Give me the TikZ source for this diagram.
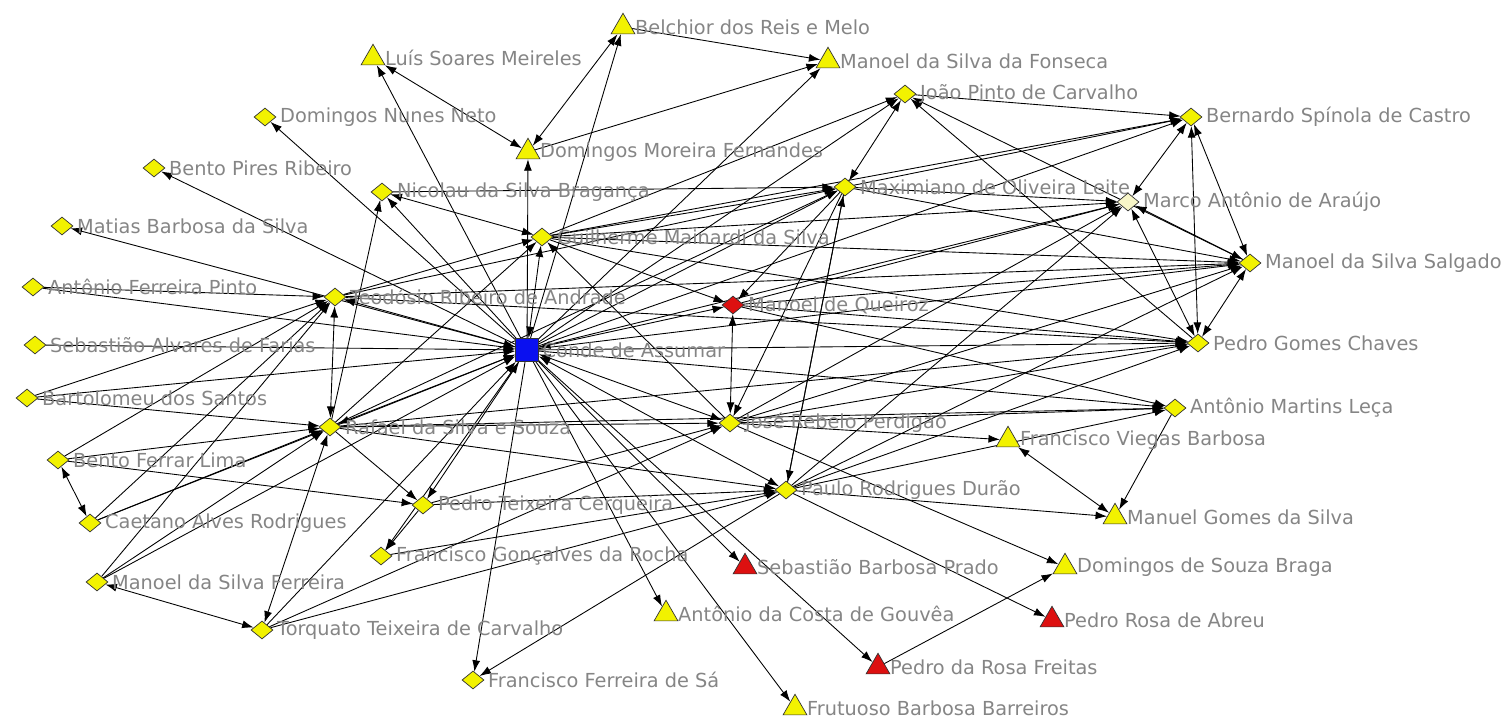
\documentclass[tikz,border=0pt]{standalone}
\usepackage{fontspec}
\setmainfont{DejaVu Sans}
\usepackage{tikz}
\usetikzlibrary{arrows.meta,shapes.geometric,backgrounds}
\definecolor{netyellow}{HTML}{F2F200}
\definecolor{netred}{HTML}{DD1010}
\definecolor{netblue}{HTML}{0A10F0}
\definecolor{netpale}{HTML}{F8F6C8}
\definecolor{netgray}{HTML}{858585}
\tikzset{
  who/.style={diamond,draw=black!80,fill=netyellow,minimum width=0.44cm,minimum height=0.36cm,inner sep=0pt},
  whored/.style={who,fill=netred},
  whopale/.style={who,fill=netpale},
  tri/.style={regular polygon,regular polygon sides=3,draw=black!80,fill=netyellow,minimum size=0.55cm,inner sep=0pt},
  trired/.style={tri,fill=netred},
  gov/.style={rectangle,draw=black!80,fill=netblue,minimum size=0.46cm,inner sep=0pt},
  lbl/.style={font=\fontsize{11}{13}\selectfont,text=netgray,inner sep=2pt},
  tie/.style={-{Latex[length=2.3mm,width=1.6mm]},line width=0.5pt},
  both/.style={{Latex[length=2.3mm,width=1.6mm]}-{Latex[length=2.3mm,width=1.6mm]},line width=0.5pt}
}
\begin{document}
\begin{tikzpicture}[x=0.02cm,y=-0.02cm]
\useasboundingbox (0,0) rectangle (1504,719);
% actors
\node[tri,label={[lbl]right:Belchior dos Reis e Melo}] (bel) at (623,27) {};
\node[tri,label={[lbl]right:Luís Soares Meireles}] (lsm) at (373,58) {};
\node[tri,label={[lbl]right:Manoel da Silva da Fonseca}] (fon) at (828,61) {};
\node[who,label={[lbl]right:Domingos Nunes Neto}] (dnn) at (265,117) {};
\node[who,label={[lbl]right:João Pinto de Carvalho}] (jpc) at (905,94) {};
\node[who,label={[lbl]right:Bernardo Spínola de Castro}] (bsc) at (1191,117) {};
\node[tri,label={[lbl]right:Domingos Moreira Fernandes}] (dmf) at (528,152) {};
\node[who,label={[lbl]right:Bento Pires Ribeiro}] (bpr) at (154,168) {};
\node[who,label={[lbl]right:Nicolau da Silva Bragança}] (nsb) at (382,192) {};
\node[who,label={[lbl]right:Maximiano de Oliveira Leite}] (mol) at (845,187) {};
\node[whopale,label={[lbl]right:Marco Antônio de Araújo}] (maa) at (1128,202) {};
\node[who,label={[lbl]right:Matias Barbosa da Silva}] (mbs) at (62,226) {};
\node[who,label={[lbl]right:Guilherme Mainardi da Silva}] (gms) at (542,237) {};
\node[who,label={[lbl]right:Manoel da Silva Salgado}] (mss) at (1250,263) {};
\node[who,label={[lbl]right:Antônio Ferreira Pinto}] (afp) at (33,287) {};
\node[who,label={[lbl]right:Teodósio Ribeiro de Andrade}] (tra) at (335,297) {};
\node[whored,label={[lbl]right:Manoel de Queiroz}] (mqz) at (733,305) {};
\node[who,label={[lbl]right:Sebastião Alvares de Farias}] (saf) at (35,345) {};
\node[gov,label={[lbl]right:Conde de Assumar}] (cda) at (527,350) {};
\node[who,label={[lbl]right:Pedro Gomes Chaves}] (pgc) at (1198,343) {};
\node[who,label={[lbl]right:Bartolomeu dos Santos}] (bds) at (27,398) {};
\node[who,label={[lbl]right:Rafael da Silva e Souza}] (rss) at (330,427) {};
\node[who,label={[lbl]right:José Rebelo Perdigão}] (jrp) at (730,423) {};
\node[who,label={[lbl]right:Antônio Martins Leça}] (aml) at (1175,408) {};
\node[tri,label={[lbl]right:Francisco Viegas Barbosa}] (fvb) at (1008,440) {};
\node[who,label={[lbl]right:Bento Ferrar Lima}] (bfl) at (58,460) {};
\node[who,label={[lbl]right:Pedro Teixeira Cerqueira}] (ptc) at (423,505) {};
\node[who,label={[lbl]right:Paulo Rodrigues Durão}] (prd) at (786,490) {};
\node[who,label={[lbl]right:Caetano Alves Rodrigues}] (car) at (90,523) {};
\node[tri,label={[lbl]right:Manuel Gomes da Silva}] (mgs) at (1115,517) {};
\node[who,label={[lbl]right:Francisco Gonçalves da Rocha}] (fgr) at (381,556) {};
\node[trired,label={[lbl]right:Sebastião Barbosa Prado}] (sbp) at (745,567) {};
\node[tri,label={[lbl]right:Domingos de Souza Braga}] (dsb) at (1065,567) {};
\node[who,label={[lbl]right:Manoel da Silva Ferreira}] (mfe) at (97,582) {};
\node[tri,label={[lbl]right:Antônio da Costa de Gouvêa}] (acg) at (666,614) {};
\node[trired,label={[lbl]right:Pedro Rosa de Abreu}] (pra) at (1052,620) {};
\node[who,label={[lbl]right:Torquato Teixeira de Carvalho}] (ttc) at (262,630) {};
\node[trired,label={[lbl]right:Pedro da Rosa Freitas}] (prf) at (878,667) {};
\node[who,label={[lbl]right:Francisco Ferreira de Sá}] (ffs) at (473,680) {};
\node[tri,label={[lbl]right:Frutuoso Barbosa Barreiros}] (fbb) at (795,708) {};
% ties
\begin{scope}[on background layer]
\draw[both] (bel) -- (dmf);
\draw[both] (lsm) -- (dmf);
\draw[both] (nsb) -- (gms);
\draw[both] (jpc) -- (mol);
\draw[both] (bsc) -- (maa);
\draw[both] (bsc) -- (pgc);
\draw[both] (bsc) -- (mss);
\draw[both] (maa) -- (pgc);
\draw[both] (maa) -- (mss);
\draw[both] (mss) -- (pgc);
\draw[both] (mqz) -- (jrp);
\draw[both] (tra) -- (rss);
\draw[both] (rss) -- (ttc);
\draw[both] (ttc) -- (mfe);
\draw[both] (bfl) -- (car);
\draw[both] (fvb) -- (mgs);
\draw[both] (cda) -- (tra);
\draw[both] (cda) -- (rss);
\draw[both] (cda) -- (gms);
\draw[both] (cda) -- (jrp);
\draw[both] (cda) -- (prd);
\draw[both] (cda) -- (mqz);
\draw[both] (cda) -- (ptc);
\draw[tie] (cda) -- (bel);
\draw[tie] (cda) -- (lsm);
\draw[tie] (cda) -- (dnn);
\draw[tie] (cda) -- (bpr);
\draw[tie] (cda) -- (mbs);
\draw[tie] (cda) -- (fon);
\draw[tie] (cda) -- (dmf);
\draw[tie] (cda) -- (nsb);
\draw[tie] (cda) -- (jpc);
\draw[tie] (cda) -- (mol);
\draw[tie] (cda) -- (bsc);
\draw[tie] (cda) -- (maa);
\draw[tie] (cda) -- (mss);
\draw[tie] (cda) -- (pgc);
\draw[tie] (cda) -- (aml);
\draw[tie] (cda) -- (fgr);
\draw[tie] (cda) -- (ffs);
\draw[tie] (cda) -- (sbp);
\draw[tie] (cda) -- (acg);
\draw[tie] (cda) -- (fbb);
\draw[tie] (cda) -- (prf);
\draw[tie] (afp) -- (tra);
\draw[tie] (afp) -- (cda);
\draw[tie] (saf) -- (cda);
\draw[tie] (bds) -- (tra);
\draw[tie] (bds) -- (rss);
\draw[tie] (bds) -- (cda);
\draw[tie] (bfl) -- (tra);
\draw[tie] (bfl) -- (rss);
\draw[tie] (bfl) -- (ptc);
\draw[tie] (car) -- (tra);
\draw[tie] (car) -- (rss);
\draw[tie] (car) -- (cda);
\draw[tie] (mfe) -- (rss);
\draw[tie] (mfe) -- (cda);
\draw[tie] (mfe) -- (tra);
\draw[tie] (ttc) -- (cda);
\draw[tie] (ttc) -- (jrp);
\draw[tie] (ttc) -- (prd);
\draw[tie] (bel) -- (fon);
\draw[tie] (dmf) -- (fon);
\draw[tie] (gms) -- (jpc);
\draw[tie] (gms) -- (mol);
\draw[tie] (gms) -- (maa);
\draw[tie] (gms) -- (bsc);
\draw[tie] (gms) -- (mqz);
\draw[tie] (gms) -- (mss);
\draw[tie] (gms) -- (pgc);
\draw[tie] (nsb) -- (mol);
\draw[tie] (rss) -- (nsb);
\draw[tie] (tra) -- (gms);
\draw[tie] (rss) -- (gms);
\draw[tie] (jrp) -- (gms);
\draw[tie] (jpc) -- (bsc);
\draw[tie] (mss) -- (jpc);
\draw[tie] (pgc) -- (jpc);
\draw[tie] (mol) -- (bsc);
\draw[tie] (mol) -- (maa);
\draw[tie] (mol) -- (mqz);
\draw[tie] (mol) -- (prd);
\draw[tie] (mol) -- (jrp);
\draw[tie] (mol) -- (mss);
\draw[tie] (tra) -- (mol);
\draw[tie] (rss) -- (mol);
\draw[tie] (prd) -- (mol);
\draw[tie] (mqz) -- (maa);
\draw[tie] (mqz) -- (mss);
\draw[tie] (mqz) -- (pgc);
\draw[tie] (mqz) -- (aml);
\draw[tie] (jrp) -- (maa);
\draw[tie] (jrp) -- (mss);
\draw[tie] (jrp) -- (pgc);
\draw[tie] (jrp) -- (aml);
\draw[tie] (jrp) -- (fvb);
\draw[tie] (jrp) -- (dsb);
\draw[tie] (prd) -- (maa);
\draw[tie] (prd) -- (mss);
\draw[tie] (prd) -- (pgc);
\draw[tie] (prd) -- (aml);
\draw[tie] (prd) -- (mgs);
\draw[tie] (prd) -- (pra);
\draw[tie] (prd) -- (ffs);
\draw[tie] (rss) -- (ptc);
\draw[tie] (rss) -- (jrp);
\draw[tie] (rss) -- (prd);
\draw[tie] (rss) -- (pgc);
\draw[tie] (rss) -- (aml);
\draw[tie] (ptc) -- (fgr);
\draw[tie] (ptc) -- (prd);
\draw[tie] (ptc) -- (jrp);
\draw[tie] (fgr) -- (prd);
\draw[tie] (aml) -- (mgs);
\draw[tie] (prf) -- (dsb);
\draw[tie] (tra) -- (pgc);
\draw[tie] (tra) -- (mss);
\end{scope}
\end{tikzpicture}
\end{document}
